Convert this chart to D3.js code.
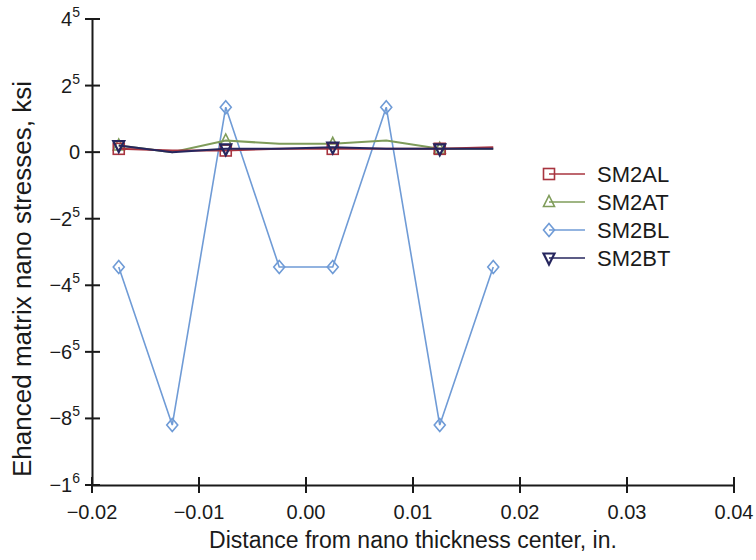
<!DOCTYPE html>
<html>
<head>
<meta charset="utf-8">
<script src="https://cdn.jsdelivr.net/npm/d3@7"></script>
<style>
  body { margin: 0; background: #fff; }
  text { font-family: "Liberation Sans", Arial, sans-serif; fill: #1a1a1a; }
</style>
</head>
<body>
<script>
// distance from centre (in.)
const xs = [-0.0175, -0.0125, -0.0075, -0.0025, 0.0025, 0.0075, 0.0125, 0.0175];

// stresses in axis units
const sm2al = [0.1, 0.05, 0.05, 0.1, 0.1, 0.1, 0.1, 0.15];
const sm2at = [0.2, 0.0, 0.35, 0.25, 0.25, 0.35, 0.1, 0.1];
const sm2bl = [-3.45, -8.2, 1.35, -3.45, -3.45, 1.35, -8.2, -3.45];
const sm2bt = [0.2, 0.0, 0.1, 0.1, 0.15, 0.1, 0.1, 0.1];

const xTicks = [-0.02, -0.01, 0.0, 0.01, 0.02, 0.03, 0.04];
const yTicks = [4, 2, 0, -2, -4, -6, -8, -10];
// tick text as printed: [mantissa, superscript]
const yTickLabels = [["4", "5"], ["2", "5"], ["0", ""], ["\u22122", "5"], ["\u22124", "5"],
  ["\u22126", "5"], ["\u22128", "5"], ["\u22121", "6"]];

const series = [
  { name: "SM2AL", values: sm2al, color: "#a8343f", shape: "square", every: 2 },
  { name: "SM2AT", values: sm2at, color: "#7f9c5a", shape: "triangle", every: 2 },
  { name: "SM2BL", values: sm2bl, color: "#6f9bd6", shape: "diamond", every: 1 },
  { name: "SM2BT", values: sm2bt, color: "#26265e", shape: "down", every: 2 }
];

const W = 756, H = 560;
const svg = d3.select("body").append("svg").attr("width", W).attr("height", H);

const x = d3.scaleLinear().domain([-0.02, 0.04]).range([92, 734]);
const y = d3.scaleLinear().domain([-10, 4]).range([485, 19]);

// axes, ticks cross the line on both sides
const xAxis = svg.append("g").attr("transform", `translate(0,${y(-10)})`)
  .call(d3.axisBottom(x).tickValues(xTicks).tickSize(0).tickFormat(""));
xAxis.select(".domain").attr("stroke", "#1a1a1a").attr("stroke-width", 2);
xAxis.selectAll(".xt").data(xTicks).enter().append("line")
  .attr("x1", d => x(d)).attr("x2", d => x(d)).attr("y1", -8).attr("y2", 8)
  .attr("stroke", "#1a1a1a").attr("stroke-width", 2);
xAxis.selectAll(".xl").data(xTicks).enter().append("text")
  .attr("x", d => x(d)).attr("y", 34)
  .attr("text-anchor", "middle").style("font-size", "20px")
  .text(d => d3.format(".2f")(d).replace("-", "\u2212"));

const yAxis = svg.append("g").attr("transform", `translate(${x(-0.02)},0)`)
  .call(d3.axisLeft(y).tickValues(yTicks).tickSize(0).tickFormat(""));
yAxis.select(".domain").attr("stroke", "#1a1a1a").attr("stroke-width", 2);
yAxis.selectAll(".yt").data(yTicks).enter().append("line")
  .attr("x1", -7).attr("x2", 8).attr("y1", d => y(d)).attr("y2", d => y(d))
  .attr("stroke", "#1a1a1a").attr("stroke-width", 2);
const yl = yAxis.selectAll(".yl").data(yTicks).enter().append("text")
  .attr("x", -12).attr("y", d => y(d) + 7)
  .attr("text-anchor", "end").style("font-size", "20px");
yl.append("tspan").text((d, i) => yTickLabels[i][0]);
yl.append("tspan").attr("dy", -9).style("font-size", "14px").text((d, i) => yTickLabels[i][1]);

svg.append("text").attr("x", 413).attr("y", 548).attr("text-anchor", "middle")
  .style("font-size", "23px").text("Distance from nano thickness center, in.");
svg.append("text").attr("transform", "translate(31,279) rotate(-90)").attr("text-anchor", "middle")
  .style("font-size", "26px").text("Ehanced matrix nano stresses, ksi");

function marker(g, shape, color, cx, cy) {
  const s = 5.5;
  if (shape === "square") {
    g.append("rect").attr("x", cx - s).attr("y", cy - s).attr("width", 2 * s).attr("height", 2 * s)
      .attr("fill", "none").attr("stroke", color).attr("stroke-width", 1.6);
  } else if (shape === "triangle") {
    g.append("path").attr("d", `M${cx},${cy - s - 1}L${cx + s},${cy + s - 1}L${cx - s},${cy + s - 1}Z`)
      .attr("fill", "none").attr("stroke", color).attr("stroke-width", 1.6);
  } else if (shape === "down") {
    g.append("path").attr("d", `M${cx - s},${cy - s + 1}L${cx + s},${cy - s + 1}L${cx},${cy + s + 1}Z`)
      .attr("fill", "none").attr("stroke", color).attr("stroke-width", 2.2);
  } else {
    g.append("path").attr("d", `M${cx},${cy - s - 1}L${cx + s},${cy}L${cx},${cy + s + 1}L${cx - s},${cy}Z`)
      .attr("fill", "none").attr("stroke", color).attr("stroke-width", 1.6);
  }
}

const line = d3.line().x((d, i) => x(xs[i])).y(d => y(d));
const plot = svg.append("g");
// blue series underneath, near-zero series on top
[series[2], series[1], series[0], series[3]].forEach(s => {
  plot.append("path").datum(s.values).attr("d", line)
    .attr("fill", "none").attr("stroke", s.color)
    .attr("stroke-width", s.shape === "diamond" ? 1.6 : 2);
  s.values.forEach((v, i) => {
    if (i % s.every === 0) marker(plot, s.shape, s.color, x(xs[i]), y(v));
  });
});

// legend
const lg = svg.append("g");
series.forEach((s, i) => {
  const ly = 174 + i * 28;
  lg.append("line").attr("x1", 549).attr("x2", 585).attr("y1", ly).attr("y2", ly)
    .attr("stroke", s.color).attr("stroke-width", 1.6);
  marker(lg, s.shape, s.color, 549, ly);
  lg.append("text").attr("x", 597).attr("y", ly + 8).style("font-size", "22px").text(s.name);
});
</script>
</body>
</html>
